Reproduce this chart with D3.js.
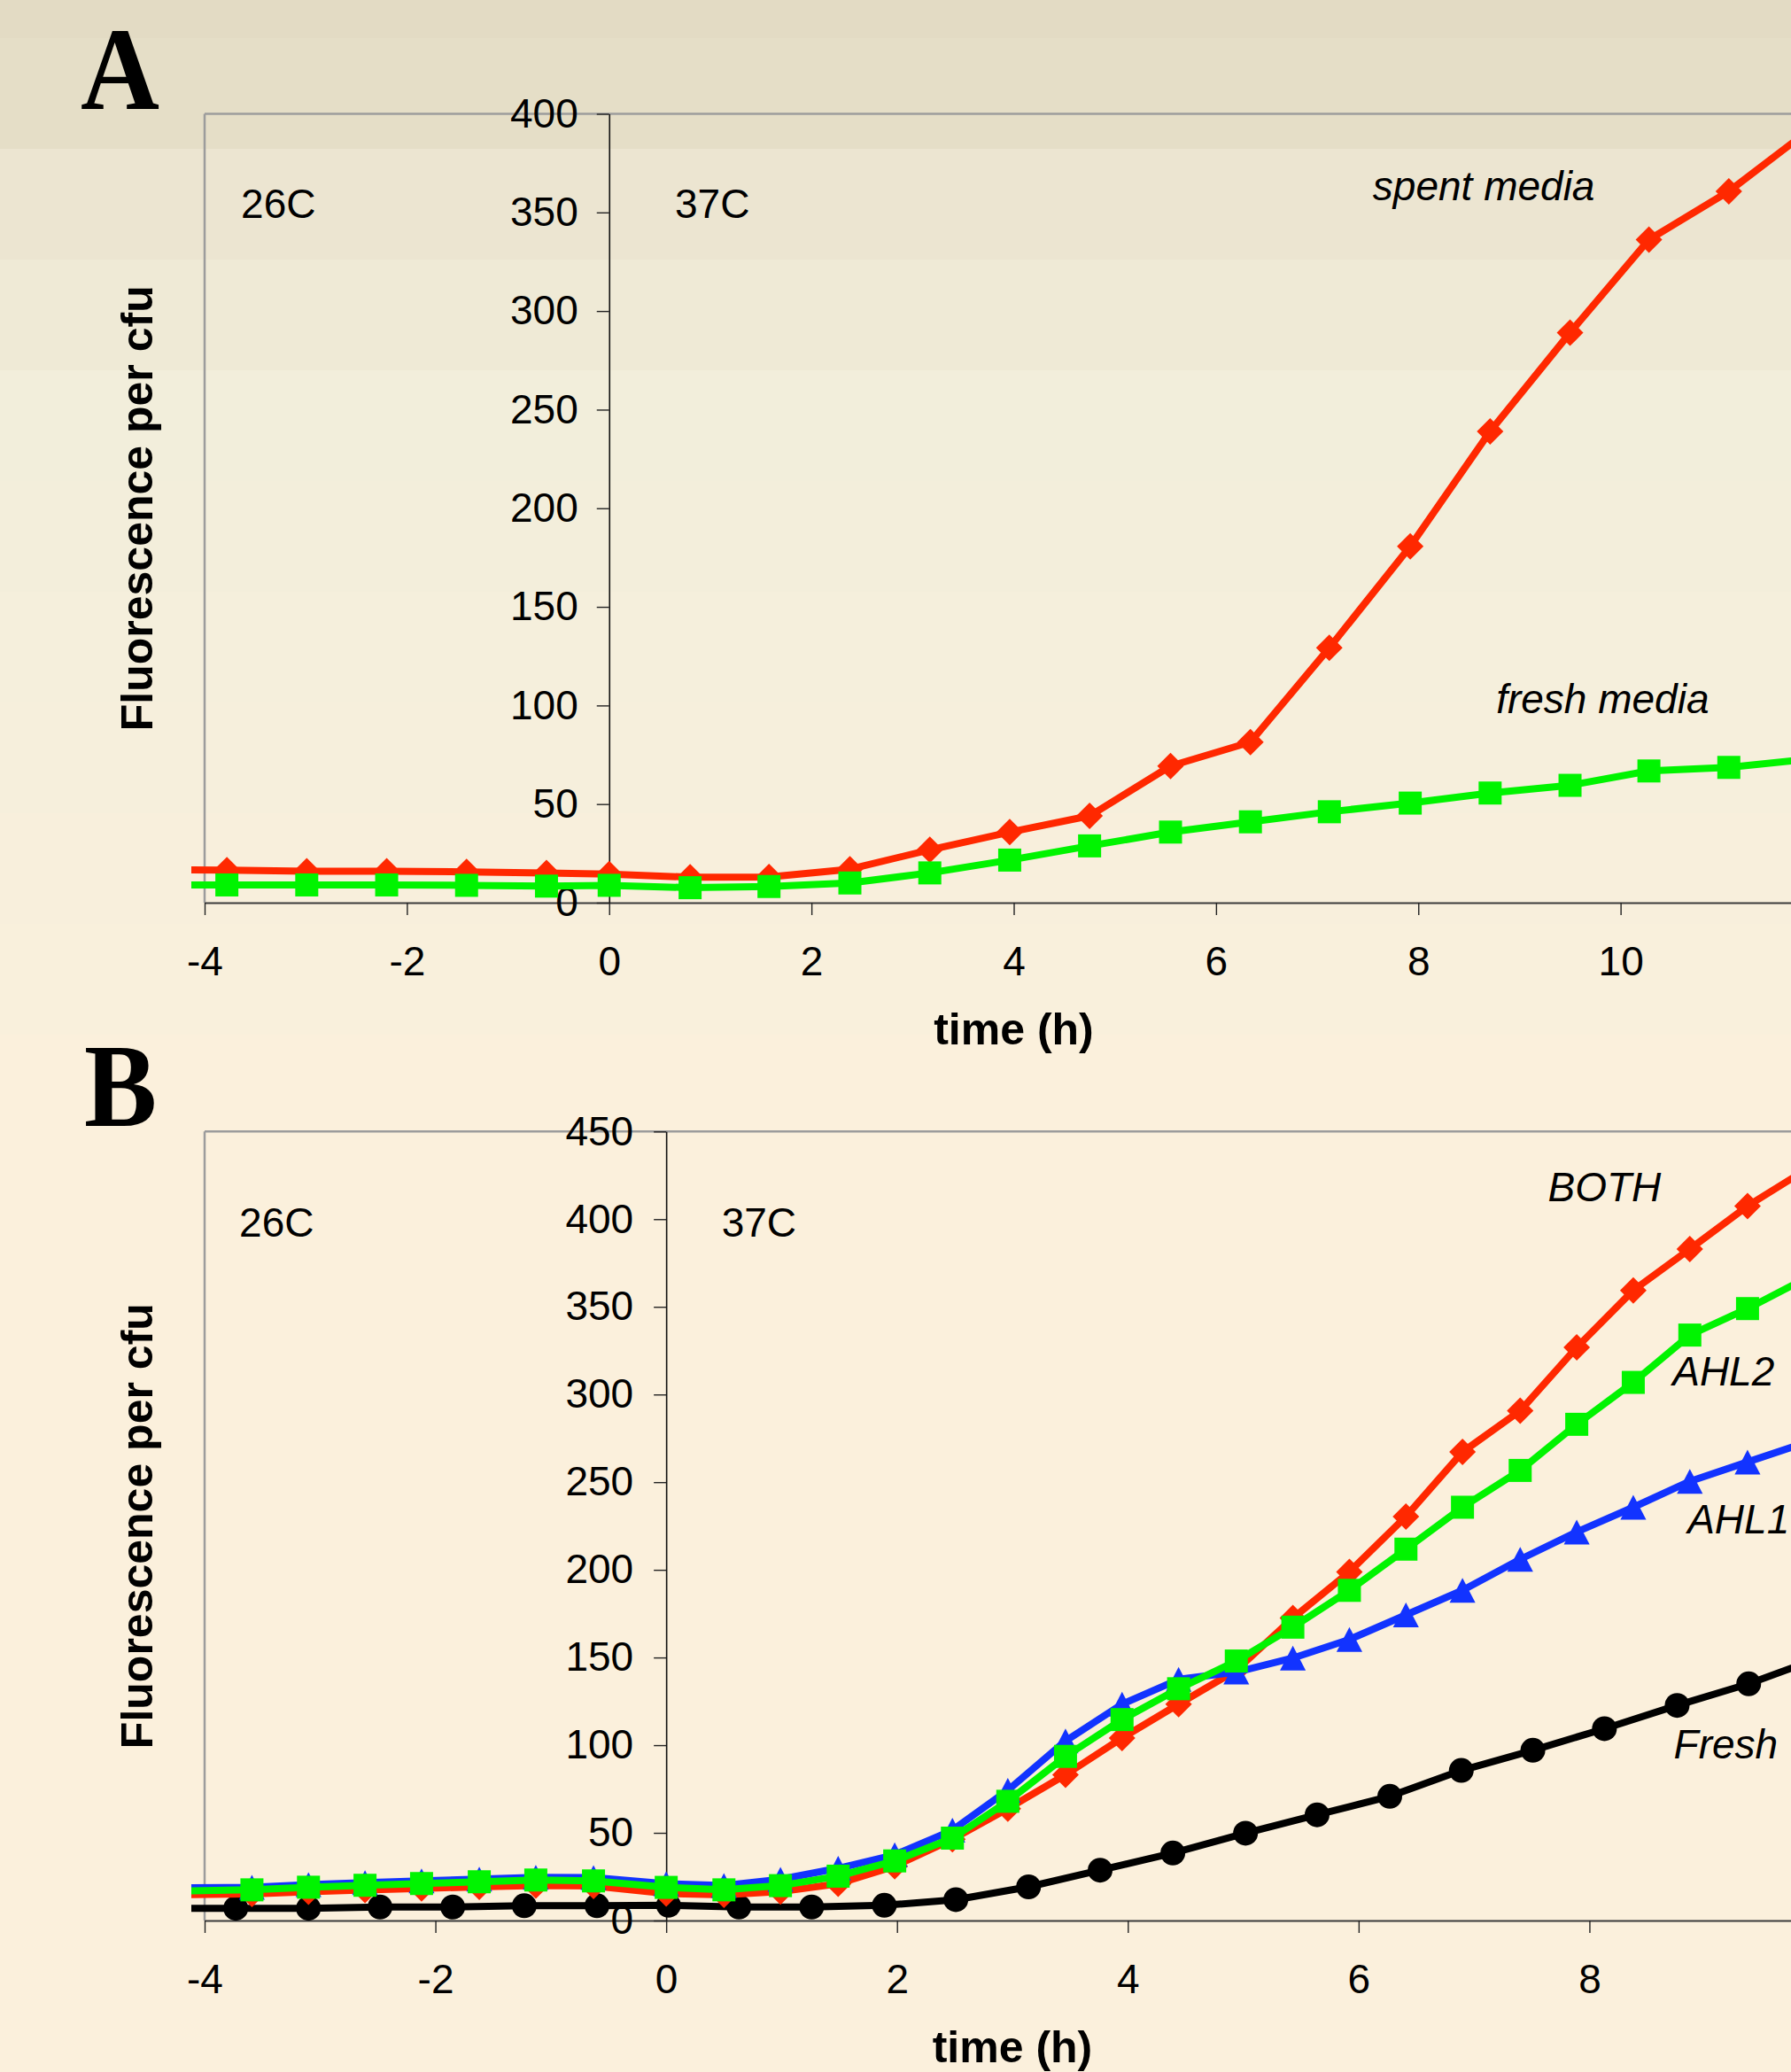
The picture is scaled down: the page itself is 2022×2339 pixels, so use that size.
<!DOCTYPE html>
<html>
<head>
<meta charset="utf-8">
<style>
  body { margin: 0; background: #fbf0dc; }
  svg { display: block; }
  .note { font-family: "Liberation Sans", Arial, sans-serif; font-size: 46px; fill: #000; }
  .title { font-family: "Liberation Sans", Arial, sans-serif; font-size: 50px; font-weight: bold; fill: #000; }
  .letter { font-family: "Liberation Serif", "Times New Roman", serif; font-size: 134px; font-weight: bold; fill: #000; }
</style>
</head>
<body>
<script src="https://d3js.org/d3.v7.min.js"></script>
<script>
// ---- panel A data (hours, fluorescence per cfu) ----
var hoursA = [-4.56, -3.78, -2.99, -2.20, -1.41, -0.62, 0, 0.80, 1.58, 2.38, 3.17,
              3.96, 4.75, 5.55, 6.34, 7.12, 7.92, 8.71, 9.50, 10.28, 11.07, 11.87];
var spentA = [16.8, 16.5, 16.0, 16.0, 15.6, 15.1, 14.5, 12.9, 13.0, 17.0, 26.8,
              35.8, 44, 69.3, 81.4, 129.2, 180.7, 239, 289, 336.2, 360.7, 392];
var freshA = [9.0, 9.0, 9.0, 9.0, 8.8, 8.4, 8.8, 7.6, 8.2, 10.0, 15.1,
              21.6, 28.8, 35.8, 41, 46.1, 50.5, 55.6, 59.5, 66.8, 68.6, 72.8];
var xTicksA = [-4, -2, 0, 2, 4, 6, 8, 10];
var yTicksA = [0, 50, 100, 150, 200, 250, 300, 350, 400];
var notesA = [["26C", -3.64, 347, "normal"], ["37C", 0.65, 347, "normal"],
              ["spent media", 7.55, 356, "italic"], ["fresh media", 8.77, 96, "italic"]];

// ---- panel B data ----
var hoursB = [-4.40, -3.59, -3.10, -2.61, -2.12, -1.62, -1.13, -0.63, 0, 0.50, 0.99, 1.49, 1.98,
              2.48, 2.96, 3.46, 3.95, 4.44, 4.94, 5.43, 5.92, 6.41, 6.90, 7.40, 7.89, 8.38, 8.87, 9.37, 9.87];
var bothB = [14.6, 15.2, 16.4, 17.4, 18.3, 19.2, 20.0, 19.7, 15.4, 14.7, 16.5, 21.0, 31.0,
             46.3, 63.8, 83.1, 104.1, 123.4, 142.7, 172.5, 198.8, 230.4, 267.2, 290.7, 326.9, 359.4, 383, 407.5, 428];
var ahl2B = [16.7, 17.5, 19.0, 20.1, 21.1, 22.1, 23.1, 22.6, 18.9, 17.5, 19.9, 25.3, 34.0,
             47.0, 68.0, 93.6, 114.6, 132.2, 148.0, 167.3, 188.3, 211.8, 235.7, 256.7, 283.0, 306.9, 333.9, 349, 366];
var ahl1B = [18.5, 19.0, 20.5, 21.6, 22.6, 23.6, 24.6, 24.5, 21.0, 20.0, 23.5, 29.8, 37.5,
             51.5, 74.3, 102.4, 123.4, 137.5, 141.7, 149.7, 160.3, 174.3, 188.3, 206, 221.6, 235.7, 250.5, 261.5, 272.5];
var hoursFresh = [-4.35, -3.73, -3.10, -2.48, -1.85, -1.23, -0.60, 0.02, 0.63, 1.26, 1.89, 2.51,
                  3.14, 3.76, 4.39, 5.02, 5.64, 6.27, 6.89, 7.51, 8.13, 8.76, 9.38, 10.0];
var freshB = [7.0, 7.0, 7.0, 7.7, 7.7, 8.4, 8.4, 8.7, 7.7, 7.7, 8.7, 11.9,
              19.2, 28.7, 38.5, 49.8, 60.3, 70.8, 85.6, 97.1, 109.4, 122.7, 135, 150];
var xTicksB = [-4, -2, 0, 2, 4, 6, 8];
var yTicksB = [0, 50, 100, 150, 200, 250, 300, 350, 400, 450];
var notesB = [["26C", -3.70, 390, "normal"], ["37C", 0.48, 390, "normal"],
              ["BOTH", 7.64, 410, "italic"], ["AHL2", 8.72, 305, "italic"],
              ["AHL1", 8.85, 221, "italic"], ["Fresh", 8.73, 92.4, "italic"]];

var W = 2022, H = 2339;
var RED = "#ff2800", GREEN = "#00f400", BLUE = "#1233ff", BLACK = "#000";

var svg = d3.select("body").append("svg").attr("width", W).attr("height", H);

// banded slide background, darker at the top
var bandColor = d3.scaleLinear()
  .domain([0, 168, 417, 700, 1170])
  .range(["#e3dbc4", "#ece5d1", "#f2eedb", "#f5efdc", "#fbf0dc"])
  .clamp(true);
var edges = [0].concat(d3.range(43, 1300, 125));
edges.forEach(function(e, i) {
  var next = i < edges.length - 1 ? edges[i + 1] : H;
  svg.append("rect").attr("x", 0).attr("y", e).attr("width", W).attr("height", next - e)
    .attr("fill", bandColor(e));
});

svg.append("clipPath").attr("id", "plotclip")
  .append("rect").attr("x", 216).attr("y", 0).attr("width", W - 216).attr("height", H);

// marker shapes, size = half extent
var shapes = {
  diamond: { draw: function(c, r) { c.moveTo(0, -r); c.lineTo(r, 0); c.lineTo(0, r); c.lineTo(-r, 0); c.closePath(); } },
  square: { draw: function(c, r) { c.rect(-r, -r, 2 * r, 2 * r); } },
  triangle: { draw: function(c, r) { c.moveTo(0, -r); c.lineTo(r * 1.04, r); c.lineTo(-r * 1.04, r); c.closePath(); } },
  circle: { draw: function(c, r) { c.moveTo(r, 0); c.arc(0, 0, r, 0, 2 * Math.PI); } }
};

function panel(o) {
  var x = d3.scaleLinear().domain(o.xDomain).range([231, o.right]);
  var y = d3.scaleLinear().domain([0, o.yMax]).range([o.bottom, o.top]);
  var g = svg.append("g");

  // plot frame (top and left, grey)
  g.append("line").attr("x1", x.range()[0]).attr("x2", W).attr("y1", y(o.yMax)).attr("y2", y(o.yMax))
    .attr("stroke", "#9c9c9c").attr("stroke-width", 2.5);
  g.append("line").attr("x1", x.range()[0]).attr("x2", x.range()[0]).attr("y1", y(o.yMax)).attr("y2", y(0))
    .attr("stroke", "#9c9c9c").attr("stroke-width", 2.5);

  var gx = g.append("g").attr("transform", "translate(0," + y(0) + ")")
    .call(d3.axisBottom(x).tickValues(o.xTicks).tickSize(14).tickPadding(35).tickSizeOuter(0)
      .tickFormat(function(d) { return String(d); }));
  var gy = g.append("g").attr("transform", "translate(" + x(0) + ",0)")
    .call(d3.axisLeft(y).tickValues(o.yTicks).tickSize(14).tickPadding(o.yPad).tickSizeOuter(0)
      .tickFormat(function(d) { return String(d); }));
  [gx, gy].forEach(function(a) {
    a.attr("font-size", 46).attr("font-family", "'Liberation Sans', Arial, sans-serif");
    a.selectAll("text").attr("fill", "#000");
    a.selectAll(".tick line").attr("stroke", "#222").attr("stroke-width", 1.4);
  });
  gx.select(".domain").attr("stroke", "#3a3a3a").attr("stroke-width", 2);
  gy.select(".domain").attr("stroke", "#111").attr("stroke-width", 1.6);

  var plot = g.append("g").attr("clip-path", "url(#plotclip)");
  o.series.forEach(function(s) {
    var pts = s.hours.map(function(h, i) { return [h, s.values[i]]; });
    plot.append("path").datum(pts)
      .attr("fill", "none").attr("stroke", s.color).attr("stroke-width", 8)
      .attr("stroke-linejoin", "round")
      .attr("d", d3.line().x(function(d) { return x(d[0]); }).y(function(d) { return y(d[1]); }));
    plot.append("g").selectAll("path").data(pts).enter().append("path")
      .attr("transform", function(d) { return "translate(" + x(d[0]) + "," + y(d[1]) + ")"; })
      .attr("d", d3.symbol().type(shapes[s.shape]).size(s.size))
      .attr("fill", s.color);
  });

  g.selectAll(".note").data(o.notes).enter().append("text")
    .attr("class", "note")
    .attr("x", function(d) { return x(d[1]); })
    .attr("y", function(d) { return y(d[2]); })
    .style("font-style", function(d) { return d[3]; })
    .text(function(d) { return d[0]; });

  g.append("text").attr("class", "title").attr("text-anchor", "middle")
    .attr("x", (x.range()[0] + x.range()[1]) / 2).attr("y", o.bottom + 160)
    .text("time (h)");
  g.append("text").attr("class", "title").attr("text-anchor", "middle")
    .attr("transform", "translate(172," + (o.top + o.bottom) / 2 + ") rotate(-90)")
    .text("Fluorescence per cfu");
  g.append("text").attr("class", "letter")
    .attr("transform", "translate(" + o.letterX + "," + o.letterY + ") scale(0.92,1)")
    .text(o.letter);
}

panel({
  xDomain: [-4, 12], right: 2058, yMax: 400, top: 128.5, bottom: 1019, yPad: 21,
  xTicks: xTicksA, yTicks: yTicksA, notes: notesA, letter: "A", letterX: 91, letterY: 123,
  series: [
    { hours: hoursA, values: spentA, color: RED, shape: "diamond", size: 15 },
    { hours: hoursA, values: freshA, color: GREEN, shape: "square", size: 13 }
  ]
});

panel({
  xDomain: [-4, 10], right: 2055, yMax: 450, top: 1277.3, bottom: 2168, yPad: 23,
  xTicks: xTicksB, yTicks: yTicksB, notes: notesB, letter: "B", letterX: 95, letterY: 1271,
  series: [
    { hours: hoursFresh, values: freshB, color: BLACK, shape: "circle", size: 14 },
    { hours: hoursB, values: bothB, color: RED, shape: "diamond", size: 15 },
    { hours: hoursB, values: ahl1B, color: BLUE, shape: "triangle", size: 14 },
    { hours: hoursB, values: ahl2B, color: GREEN, shape: "square", size: 13 }
  ]
});
</script>
</body>
</html>
